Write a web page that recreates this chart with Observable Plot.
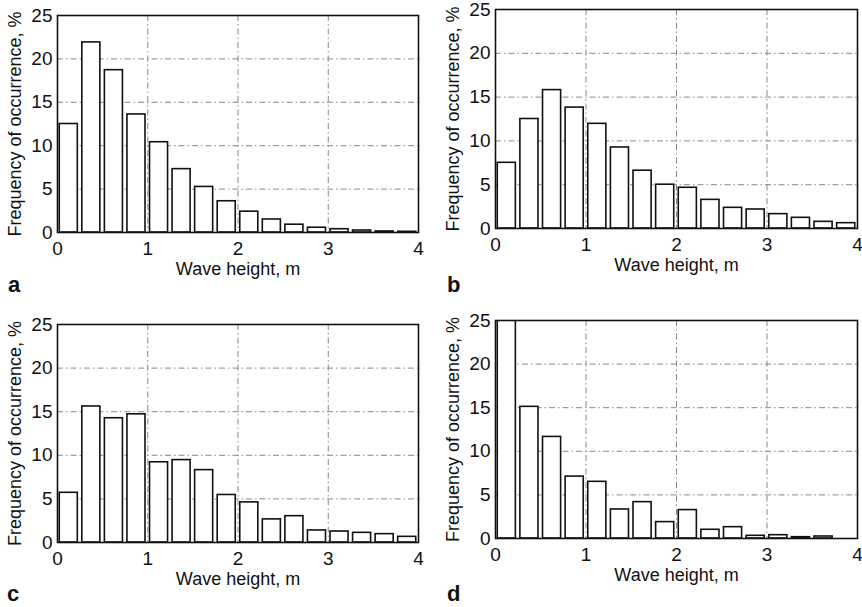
<!DOCTYPE html>
<html>
<head>
<meta charset="utf-8">
<script src="https://cdn.jsdelivr.net/npm/d3@7"></script>
<script src="https://cdn.jsdelivr.net/npm/@observablehq/plot@0.6"></script>
<style>
  html, body { margin: 0; padding: 0; background: white; }
  #root { position: relative; width: 862px; height: 607px; overflow: hidden; font-family: "Liberation Sans", Arial, sans-serif; }
  .panel { position: absolute; }
  .letter { position: absolute; font-weight: bold; font-size: 22px; line-height: 1; color: #111; }
</style>
</head>
<body>
<div id="root"></div>
<script>
// Bin centres (m), 0.25 m bins
const binCenters = [0.125, 0.375, 0.625, 0.875, 1.125, 1.375, 1.625, 1.875,
                    2.125, 2.375, 2.625, 2.875, 3.125, 3.375, 3.625, 3.875];
const xTicks = [0, 1, 2, 3, 4];
const yTicks = [0, 5, 10, 15, 20, 25];
const panelLetters = ["a", "b", "c", "d"];
const xLabel = "Wave height, m";
const yLabel = "Frequency of occurrence, %";

// Frequency of occurrence, %
const freqA = [12.5, 21.9, 18.7, 13.6, 10.4, 7.3, 5.25, 3.6, 2.4, 1.5, 0.9, 0.55, 0.38, 0.23, 0.12, 0.08];
const freqB = [7.5, 12.5, 15.8, 13.8, 11.95, 9.25, 6.6, 5.0, 4.65, 3.27, 2.36, 2.17, 1.64, 1.22, 0.76, 0.61];
const freqC = [5.7, 15.6, 14.25, 14.7, 9.2, 9.45, 8.3, 5.45, 4.6, 2.65, 3.02, 1.38, 1.26, 1.11, 0.96, 0.65];
const freqD = [28, 15.1, 11.65, 7.1, 6.5, 3.33, 4.17, 1.88, 3.26, 1.0, 1.3, 0.31, 0.38, 0.15, 0.23, 0];

const panels = [
  {values: freqA, left: 0,   top: 0,   height: 300, mt: 15, mb: 68, ml: 57, mr: 13, letterX: 8,   letterY: 274},
  {values: freqB, left: 431, top: 0,   height: 300, mt: 9,  mb: 72, ml: 64, mr: 5,  letterX: 447, letterY: 274},
  {values: freqC, left: 0,   top: 300, height: 307, mt: 24, mb: 65, ml: 57, mr: 13, letterX: 7,   letterY: 583},
  {values: freqD, left: 431, top: 300, height: 307, mt: 20, mb: 69, ml: 64, mr: 5,  letterX: 447, letterY: 583}
];

const root = document.getElementById("root");
const halfWidth = 0.1; // bar half-width in m (bar width 0.8 of bin)

panels.forEach((p, i) => {
  const data = binCenters.map((c, k) => ({x1: c - halfWidth, x2: c + halfWidth, y: p.values[k]}));
  const chart = Plot.plot({
    width: 431,
    height: p.height,
    marginTop: p.mt,
    marginBottom: p.mb,
    marginLeft: p.ml,
    marginRight: p.mr,
    style: {fontFamily: "'Liberation Sans', Arial, sans-serif", fontSize: "19px", background: "white", color: "#111", overflow: "visible"},
    x: {domain: [0, 4]},
    y: {domain: [0, 25]},
    marks: [
      Plot.gridX(xTicks.slice(1, -1), {stroke: "#888", strokeOpacity: 1, strokeWidth: 1, strokeDasharray: "6,3,1.5,3"}),
      Plot.gridY(yTicks.slice(1, -1), {stroke: "#888", strokeOpacity: 1, strokeWidth: 1, strokeDasharray: "6,3,1.5,3"}),
      Plot.rectY(data, {x1: "x1", x2: "x2", y: "y", fill: "white", stroke: "#111", strokeWidth: 1.6, clip: true}),
      Plot.frame({stroke: "#111", strokeWidth: 1.6}),
      Plot.axisX(xTicks, {tickSize: 0, tickPadding: 9, fontSize: 19, label: null}),
      Plot.axisY(yTicks, {tickSize: 0, tickPadding: 5, fontSize: 19, label: null}),
      Plot.text([xLabel], {frameAnchor: "bottom", dy: 30, lineAnchor: "top", fontSize: 18, fill: "#111"}),
      Plot.text([yLabel], {frameAnchor: "left", dx: -42, rotate: -90, textAnchor: "middle", lineAnchor: "middle", fontSize: 18, fill: "#111"})
    ]
  });
  chart.classList.add("panel");
  chart.style.left = p.left + "px";
  chart.style.top = p.top + "px";
  root.appendChild(chart);

  const letter = document.createElement("div");
  letter.className = "letter";
  letter.textContent = panelLetters[i];
  letter.style.left = p.letterX + "px";
  letter.style.top = p.letterY + "px";
  root.appendChild(letter);
});
</script>
</body>
</html>
